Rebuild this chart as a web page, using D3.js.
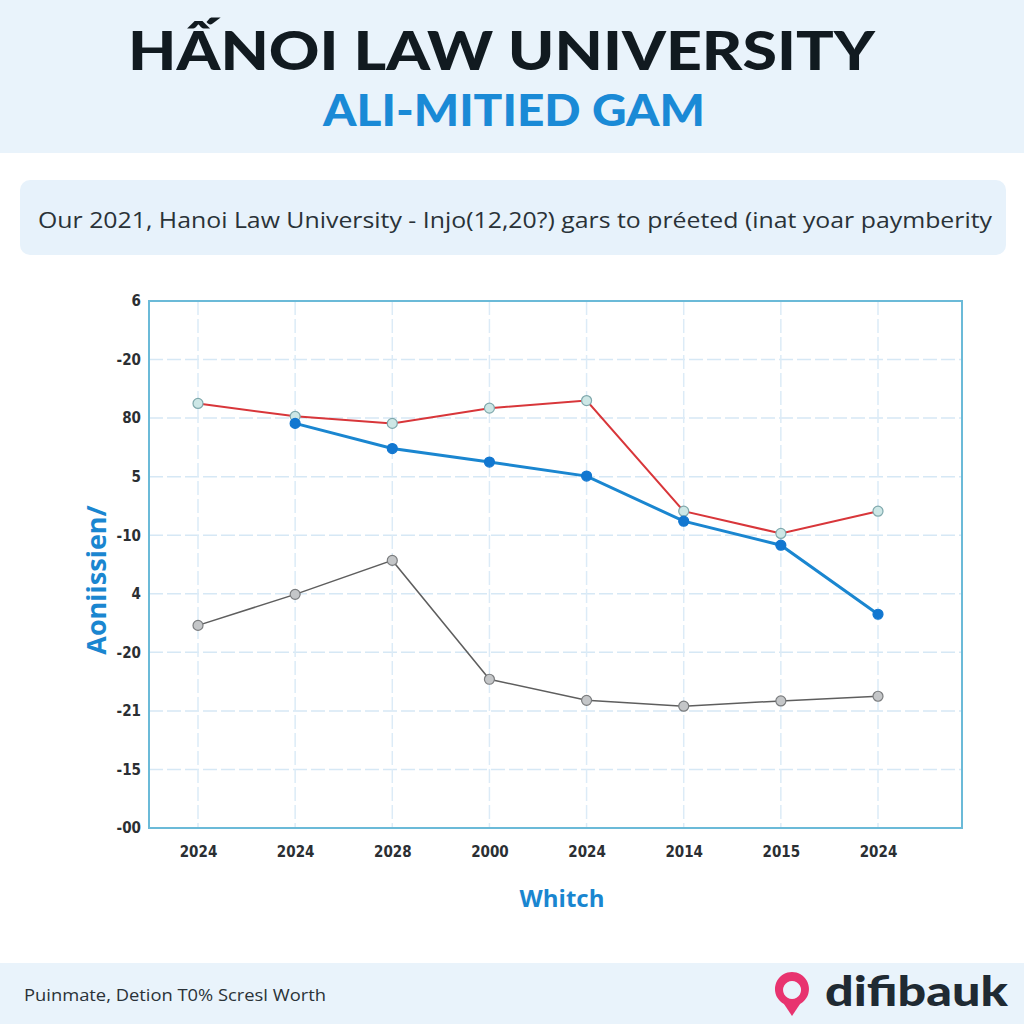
<!DOCTYPE html>
<html>
<head>
<meta charset="utf-8">
<title>Hanoi Law University</title>
<script src="https://d3js.org/d3.v7.min.js"></script>
<style>
  body { margin: 0; background: #fff; }
  text { font-family: "Open Sans", "DejaVu Sans", sans-serif; }
</style>
</head>
<body>
<svg id="chart" width="1024" height="1024"></svg>
<script>
// categories and tick labels as printed on the chart
var xLabels = ["2024", "2024", "2028", "2000", "2024", "2014", "2015", "2024"];
var yLabels = ["-00", "-15", "-21", "-20", "4", "-10", "5", "80", "-20", "6"]; // bottom to top

// series values, in grid-step units from the bottom of the axis
var redSeries  = [7.25, 7.03, 6.91, 7.17, 7.30, 5.41, 5.03, 5.41];
var blueSeries = [null, 6.91, 6.48, 6.25, 6.01, 5.24, 4.83, 3.65];
var graySeries = [3.46, 3.99, 4.57, 2.54, 2.18, 2.08, 2.17, 2.25];

var svg = d3.select("#chart");

// header band
svg.append("rect").attr("x", 0).attr("y", 0).attr("width", 1024).attr("height", 153).attr("fill", "#e9f3fb");
svg.append("text").attr("x", 128).attr("y", 70)
  .attr("font-size", 54).attr("font-weight", 900).attr("fill", "#111a20")
  .attr("textLength", 747).attr("lengthAdjust", "spacingAndGlyphs")
  .style("font-family", "Lato, 'DejaVu Sans', sans-serif")
  .text("HẤNOI LAW UNIVERSITY");
svg.append("text").attr("x", 323).attr("y", 126)
  .attr("font-size", 44).attr("font-weight", 900).attr("fill", "#1a8ad6")
  .attr("textLength", 382).attr("lengthAdjust", "spacingAndGlyphs")
  .style("font-family", "Lato, 'DejaVu Sans', sans-serif")
  .text("ALI-MITIED GAM");

// subtitle box
svg.append("rect").attr("x", 20).attr("y", 180).attr("width", 986).attr("height", 75).attr("rx", 10)
  .attr("fill", "#e7f2fb");
svg.append("text").attr("x", 38).attr("y", 228)
  .attr("font-size", 22).attr("fill", "#2a3238")
  .attr("textLength", 954).attr("lengthAdjust", "spacingAndGlyphs")
  .text("Our 2021, Hanoi Law University - Injo(12,20?) gars to préeted (inat yoar paymberity");

// plot area
var margin = { left: 149, top: 301, right: 962, bottom: 828 };
var x = d3.scalePoint().domain(d3.range(xLabels.length)).range([198, 878]);
var y = d3.scaleLinear().domain([0, yLabels.length - 1]).range([margin.bottom, margin.top]);

var g = svg.append("g");

// grid
g.selectAll(".hgrid").data(d3.range(1, yLabels.length - 1)).enter().append("line")
  .attr("x1", margin.left).attr("x2", margin.right)
  .attr("y1", function (d) { return y(d); }).attr("y2", function (d) { return y(d); })
  .attr("stroke", "#d6e8f5").attr("stroke-width", 1.5).attr("stroke-dasharray", "14,4");
g.selectAll(".vgrid").data(d3.range(xLabels.length)).enter().append("line")
  .attr("x1", function (d) { return x(d); }).attr("x2", function (d) { return x(d); })
  .attr("y1", margin.top).attr("y2", margin.bottom)
  .attr("stroke", "#dcebf7").attr("stroke-width", 1.5).attr("stroke-dasharray", "14,4");

// frame
g.append("rect").attr("x", margin.left).attr("y", margin.top)
  .attr("width", margin.right - margin.left).attr("height", margin.bottom - margin.top)
  .attr("fill", "none").attr("stroke", "#6bbad8").attr("stroke-width", 2);

// axes
var yAxis = d3.axisLeft(y).tickValues(d3.range(yLabels.length))
  .tickFormat(function (d) { return yLabels[d]; }).tickSize(0).tickPadding(8);
var yg = svg.append("g").attr("transform", "translate(" + margin.left + ",0)").call(yAxis);
var xAxis = d3.axisBottom(x).tickFormat(function (d) { return xLabels[d]; }).tickSize(0).tickPadding(18);
var xg = svg.append("g").attr("transform", "translate(0," + margin.bottom + ")").call(xAxis);
[yg, xg].forEach(function (a) {
  a.select(".domain").remove();
  a.selectAll("text").attr("font-size", 15).attr("font-weight", 700).attr("fill", "#2b2f33")
    .style("font-family", "'DejaVu Sans Condensed', 'Liberation Sans Narrow', sans-serif");
});

// axis titles
svg.append("text").attr("transform", "translate(106,580) rotate(-90)").attr("text-anchor", "middle")
  .attr("font-size", 27).attr("font-weight", 700).attr("fill", "#1a86d0")
  .text("Aoniissien/");
svg.append("text").attr("x", 562).attr("y", 907).attr("text-anchor", "middle")
  .attr("font-size", 24).attr("font-weight", 700).attr("fill", "#1a86d0")
  .text("Whitch");

// lines
var line = d3.line()
  .defined(function (d) { return d != null; })
  .x(function (d, i) { return x(i); })
  .y(function (d) { return y(d); });

function drawSeries(data, color, width, r, fill, stroke) {
  g.append("path").datum(data).attr("d", line)
    .attr("fill", "none").attr("stroke", color).attr("stroke-width", width);
  g.selectAll(null).data(data.map(function (v, i) { return { v: v, i: i }; })
      .filter(function (d) { return d.v != null; }))
    .enter().append("circle")
    .attr("cx", function (d) { return x(d.i); })
    .attr("cy", function (d) { return y(d.v); })
    .attr("r", r).attr("fill", fill).attr("stroke", stroke).attr("stroke-width", 1.2);
}

drawSeries(graySeries, "#5e5e5e", 1.5, 5, "#c4c6c8", "#7a7c7e");
drawSeries(redSeries, "#d8363a", 2, 5, "#cde7e6", "#7fa8ac");
drawSeries(blueSeries, "#1a86d0", 3, 5, "#1277d0", "#1277d0");

// footer
svg.append("rect").attr("x", 0).attr("y", 963).attr("width", 1024).attr("height", 61).attr("fill", "#e9f3fb");
svg.append("text").attr("x", 24).attr("y", 1001).attr("font-size", 17).attr("fill", "#2a3238")
  .attr("textLength", 302).attr("lengthAdjust", "spacingAndGlyphs")
  .text("Puinmate, Detion T0% Scresl Worth");
var logo = svg.append("g").attr("transform", "translate(792,990)");
logo.append("path").attr("d", "M0,-18 A17,17 0 1,1 -0.1,-18 Z M0,-9 A9,9 0 1,0 0.1,-9 Z")
  .attr("fill", "#e8336f").attr("fill-rule", "evenodd");
logo.append("path").attr("d", "M-8,14 L0,26 L8,14 Z").attr("fill", "#e8336f");
svg.append("text").attr("x", 825).attr("y", 1006).attr("font-size", 42).attr("font-weight", 900)
  .attr("fill", "#1f2a33").style("font-family", "Lato, 'DejaVu Sans', sans-serif")
  .attr("textLength", 183).attr("lengthAdjust", "spacingAndGlyphs")
  .text("difibauk");
</script>
</body>
</html>
